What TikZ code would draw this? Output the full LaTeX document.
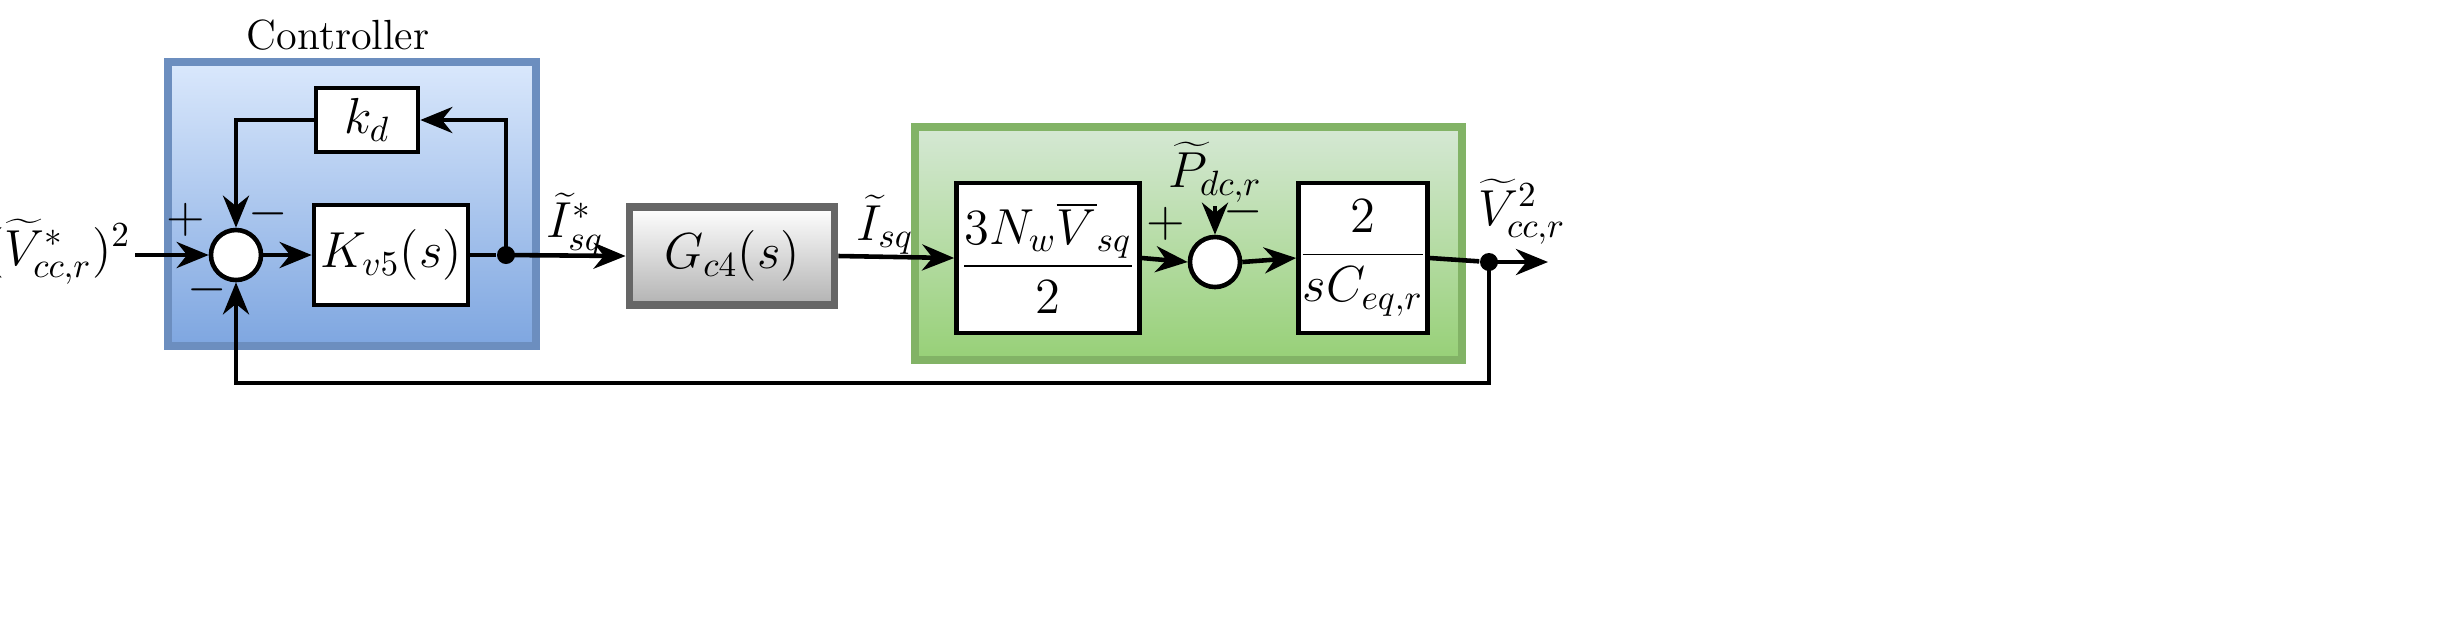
\documentclass[tikz,border=0pt]{standalone}
\usetikzlibrary{arrows.meta}
\begin{document}
\begin{tikzpicture}[x=0.01cm,y=-0.01cm,
  blk/.style={draw=black,line width=1.3pt,fill=white,inner sep=0pt},
  sumc/.style={circle,draw=black,line width=1.3pt,fill=white,inner sep=0pt,minimum size=0.5cm},
  con/.style={line width=1.3pt,-{Stealth[length=3.2mm,width=2.6mm]}},
  ln/.style={line width=1.3pt},
  dot/.style={circle,fill=black,inner sep=0pt,minimum size=0.18cm},
  lbl/.style={font=\Large}]
\useasboundingbox (0,0) rectangle (2456,623);
\definecolor{bbord}{HTML}{6C8EBF}\definecolor{btop}{HTML}{DAE8FC}\definecolor{bbot}{HTML}{7EA6E0}
\definecolor{gbord}{HTML}{82B366}\definecolor{gtop}{HTML}{D5E8D4}\definecolor{gbot}{HTML}{97D077}
% containers
\draw[draw=bbord,line width=2.2pt,top color=btop,bottom color=bbot] (168,62) rectangle (536,346);
\node[font=\large] (ctl) at (338,35) {Controller};
\draw[draw=gbord,line width=2.2pt,top color=gtop,bottom color=gbot] (915,127) rectangle (1462,360);
% blocks
\node[blk,minimum width=1.02cm,minimum height=0.64cm,lbl] (kd) at (367,120) {$k_d$};
\node[blk,minimum width=1.54cm,minimum height=1.0cm,lbl] (K) at (391,255) {$K_{v5}(s)$};
\node[draw=black!60,line width=2.2pt,top color=white,bottom color=black!30,minimum width=2.05cm,minimum height=0.98cm,lbl] (G) at (732,256) {$G_{c4}(s)$};
\node[blk,minimum width=1.83cm,minimum height=1.5cm,lbl] (A) at (1048,258) {$\displaystyle\frac{3N_w\overline{V}_{sq}}{2}$};
\node[blk,minimum width=1.23cm,minimum height=1.5cm,lbl] (B) at (1363,258) {$\displaystyle\frac{2}{sC_{eq,r}}$};
\node[sumc] (s1) at (236,255) {};
\node[sumc] (s2) at (1215,262) {};
\node[dot] (d1) at (506,255) {};
\node[dot] (d2) at (1489,262) {};
% labels
\node[lbl,anchor=east,inner sep=1pt] (in) at (135,252) {$(\widetilde{V}_{cc,r}^{*})^2$};
\coordinate (inr) at (135,255);
\node[lbl] (ist) at (575,225) {$\widetilde{I}_{sq}^{*}$};
\node[lbl] (is) at (885,225) {$\widetilde{I}_{sq}$};
\node[lbl,inner sep=1pt] (pdc) at (1215,172) {$\widetilde{P}_{dc,r}$};
\node[lbl] (vo) at (1522,212) {$\widetilde{V}_{cc,r}^{2}$};
\coordinate (out) at (1548,262);
\node[lbl] (p1) at (186,220) {$+$};
\node[lbl] (m1) at (268,214) {$-$};
\node[lbl] (m2) at (207,290) {$-$};
\node[lbl] (p2) at (1166,224) {$+$};
\node[lbl] (m3) at (1243,212) {$-$};
% connectors
\draw[con] (inr) -- (s1.west);
\draw[con] (s1.east) -- (K.west);
\draw[ln] (K.east) -- (d1);
\draw[con] (d1.center) |- (kd.east);
\draw[con] (kd.west) -| (s1.north);
\draw[con] (d1.center) -- (G.west);
\draw[con] (G.east) -- (A.west);
\draw[con] (A.east) -- (s2.west);
\draw[con] (pdc.south) -- (s2.north);
\draw[con] (s2.east) -- (B.west);
\draw[ln] (B.east) -- (d2);
\draw[con] (d2.center) -- (out);
\draw[con] (d2.center) -- (1489,383) -| (s1.south);
\end{tikzpicture}
\end{document}
